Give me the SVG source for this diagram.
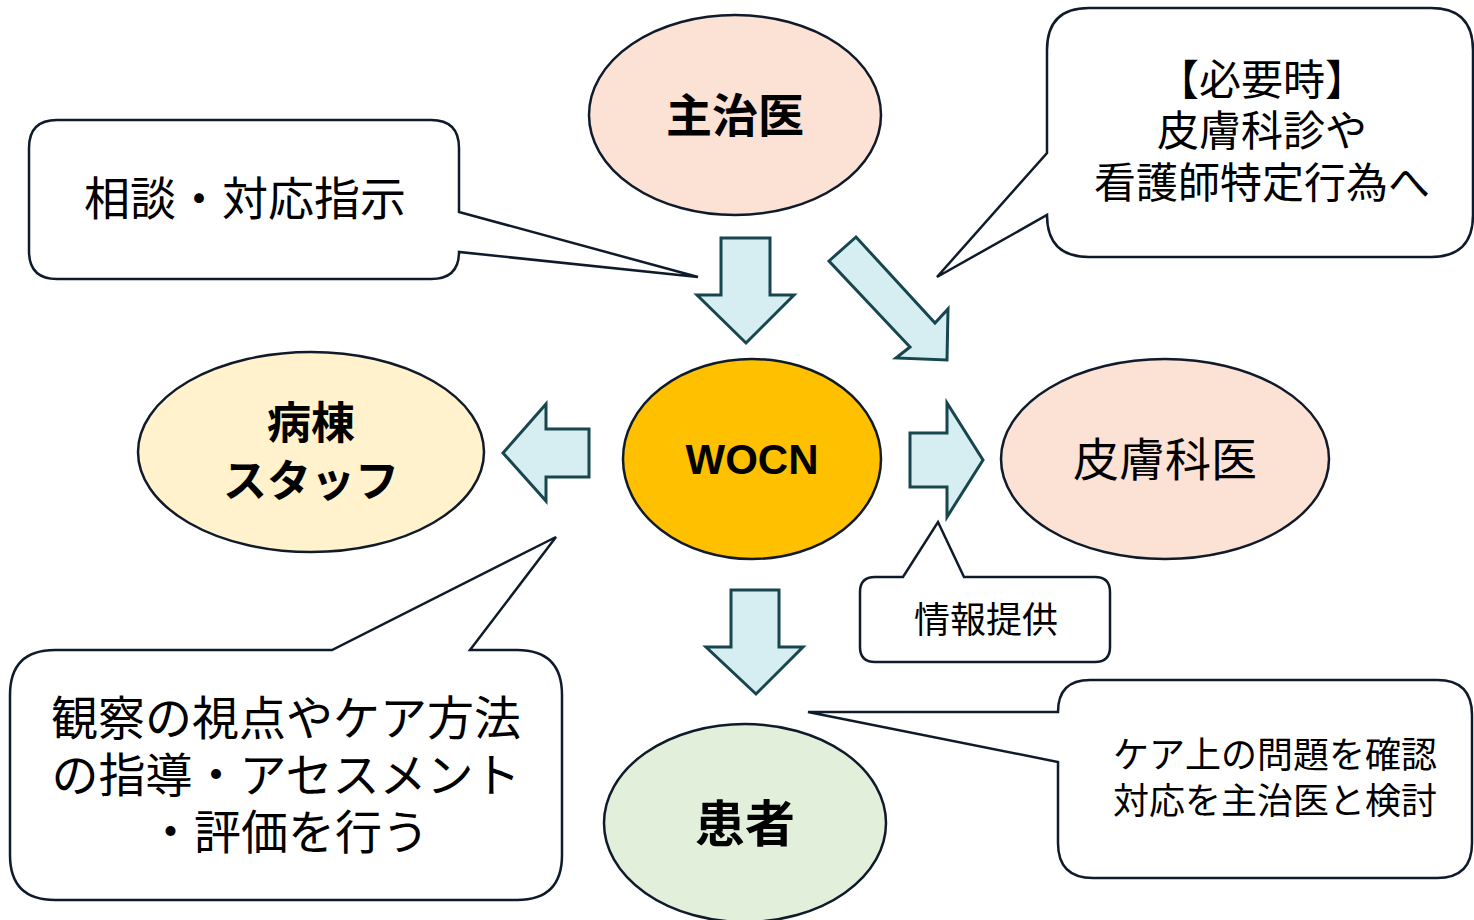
<svg xmlns="http://www.w3.org/2000/svg" width="1474" height="920" viewBox="0 0 1474 920">
<style>
.node{stroke:#0f1a2a;stroke-width:2.5}
.call{fill:#fff;stroke:#0f1a2a;stroke-width:2.5;stroke-linejoin:miter}
.arr{fill:#d6eef2;stroke:#17464f;stroke-width:3;stroke-linejoin:miter}
text{font-family:"Noto Sans CJK JP","Noto Sans CJK SC",sans-serif;fill:#000;text-anchor:middle}
.b{font-weight:bold}
</style>
<rect width="1474" height="920" fill="#fff"/>
<g id="connectors">
<path class="arr" d="M721,238 H770 V295 H794 L746,343 L697,295 H721 Z"/>
<path class="arr" d="M829,261 L856,237 L935,323 L948,309 L947,360 L896,358 L910,347 Z"/>
<path class="arr" d="M910,433 H947 V403 L983,460 L947,517 V487 H910 Z"/>
<path class="arr" d="M589,429 V477 H546 V501 L503,453 L546,404 V429 Z"/>
<path class="arr" d="M731,590 H779 V647 H803 L756,694 L706,647 H731 Z"/>
</g>
<g id="node-shujii">
<ellipse class="node" cx="735" cy="115" rx="146" ry="100" fill="#fbe2d5"/>
<text class="b" x="735" y="132" font-size="46">主治医</text>
</g>
<g id="node-wocn">
<ellipse class="node" cx="752" cy="459" rx="129" ry="100" fill="#ffc000"/>
<text class="b" x="752" y="474" font-size="42" style="font-family:'Liberation Sans',Arial,sans-serif">WOCN</text>
</g>
<g id="node-hifukai">
<ellipse class="node" cx="1165" cy="459" rx="164" ry="100" fill="#fbe2d5"/>
<text x="1165" y="476" font-size="46">皮膚科医</text>
</g>
<g id="node-byoto">
<ellipse class="node" cx="311" cy="452" rx="173" ry="100" fill="#fff2cc"/>
<text class="b" x="311" y="439" font-size="44">病棟</text>
<text class="b" x="311" y="497" font-size="44">スタッフ</text>
</g>
<g id="node-kanja">
<ellipse class="node" cx="745" cy="823" rx="141" ry="99" fill="#e2efda"/>
<text class="b" x="745" y="842" font-size="50">患者</text>
</g>
<g id="callout-soudan">
<path class="call" d="M57,120 H431 Q459,120 459,148 V212 L698,277 L459,252 Q459,279 431,279 H57 Q29,279 29,251 V148 Q29,120 57,120 Z"/>
<text x="245" y="215" font-size="46">相談・対応指示</text>
</g>
<g id="callout-hitsuyouji">
<path class="call" d="M1089,8 H1431 Q1473,8 1473,50 V215 Q1473,257 1431,257 H1089 Q1047,257 1047,215 L937,277 L1047,153 V50 Q1047,8 1089,8 Z"/>
<text x="1262" y="95" font-size="42">【必要時】</text>
<text x="1262" y="146" font-size="42">皮膚科診や</text>
<text x="1262" y="198" font-size="42">看護師特定行為へ</text>
</g>
<g id="callout-jouhou">
<path class="call" d="M875,577 H903 L938,522 L964,577 H1095 Q1110,577 1110,592 V647 Q1110,662 1095,662 H875 Q860,662 860,647 V592 Q860,577 875,577 Z"/>
<text x="986" y="633" font-size="36">情報提供</text>
</g>
<g id="callout-care">
<path class="call" d="M1090,680 H1437 Q1472,680 1472,715 V843 Q1472,878 1437,878 H1093 Q1058,878 1058,843 V762 L808,712 L1058,712 Q1058,680 1090,680 Z"/>
<text x="1275" y="768" font-size="36">ケア上の問題を確認</text>
<text x="1275" y="814" font-size="36">対応を主治医と検討</text>
</g>
<g id="callout-kansatsu">
<path class="call" d="M55,650 H332 L556,537 L470,650 H517 Q562,650 562,695 V855 Q562,900 517,900 H55 Q10,900 10,855 V695 Q10,650 55,650 Z"/>
<text x="286" y="735" font-size="47">観察の視点やケア方法</text>
<text x="286" y="792" font-size="47">の指導・アセスメント</text>
<text x="288" y="849" font-size="47">・評価を行う</text>
</g>
</svg>
